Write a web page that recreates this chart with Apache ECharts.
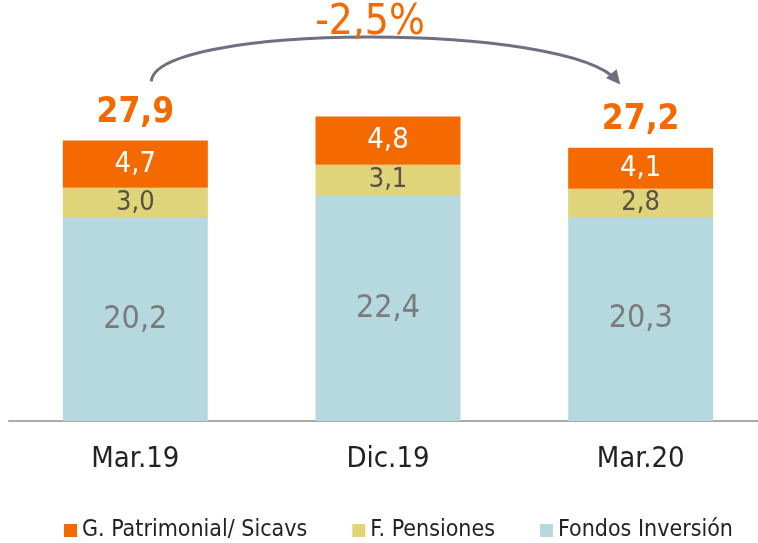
<!DOCTYPE html>
<html>
<head>
<meta charset="utf-8">
<script src="https://cdn.jsdelivr.net/npm/echarts@6/dist/echarts.min.js"></script>
<style>
  html, body { margin: 0; padding: 0; background: #fff; }
  #main { width: 758px; height: 543px; }
</style>
</head>
<body>
<div id="main"></div>
<script>
const categories = ['Mar.19', 'Dic.19', 'Mar.20'];
const fondos = [20.2, 22.4, 20.3];
const pensiones = [3.0, 3.1, 2.8];
const patrimonial = [4.7, 4.8, 4.1];
const totals = [27.9, null, 27.2];
const changeText = '-2,5%';

const FONT = '"DejaVu Sans Condensed", "Liberation Sans Narrow", "Noto Sans", sans-serif';
const ORANGE = '#f46a00';

function fmt(v) {
    return String(v.toFixed(1)).replace('.', ',');
}

var myChart = echarts.init(document.getElementById('main'));

var option = {
    animation: false,
    textStyle: { fontFamily: FONT },
    grid: { left: 9, width: 758, top: 19, height: 402, outerBoundsMode: 'none', containLabel: false },
    legend: {
        top: 514,
        left: 59,
        data: ['G. Patrimonial/ Sicavs', 'F. Pensiones', 'Fondos Inversión'],
        icon: 'rect',
        itemWidth: 13,
        itemHeight: 13,
        itemGap: 45,
        textStyle: { fontSize: 23, color: '#222', fontFamily: FONT }
    },
    xAxis: {
        type: 'category',
        data: categories,
        axisLine: { lineStyle: { color: '#aaaaaa', width: 2 } },
        axisTick: { show: false },
        axisLabel: { fontSize: 29, color: '#222', margin: 24, fontFamily: FONT }
    },
    yAxis: {
        type: 'value',
        min: 0,
        max: 40,
        show: false
    },
    series: [
        {
            name: 'Fondos Inversión',
            type: 'bar',
            stack: 'a',
            barWidth: 145,
            data: fondos,
            itemStyle: { color: '#b6d9df' },
            label: {
                show: true, position: 'inside', fontSize: 32, color: '#7b7b7b',
                fontFamily: FONT,
                formatter: function (p) { return fmt(p.value); }
            }
        },
        {
            name: 'F. Pensiones',
            type: 'bar',
            stack: 'a',
            data: pensiones,
            itemStyle: { color: '#e0d47a' },
            label: {
                show: true, position: 'inside', fontSize: 27, color: '#5a5046',
                fontFamily: FONT,
                formatter: function (p) { return fmt(p.value); }
            }
        },
        {
            name: 'G. Patrimonial/ Sicavs',
            type: 'bar',
            stack: 'a',
            data: patrimonial,
            itemStyle: { color: ORANGE },
            label: {
                show: true, position: 'inside', fontSize: 29, color: '#ffffff',
                fontFamily: FONT,
                formatter: function (p) { return fmt(p.value); }
            }
        },
        {
            name: 'total',
            type: 'bar',
            stack: 'a',
            data: totals.map(function () { return 0; }),
            itemStyle: { color: 'transparent' },
            label: {
                show: true, position: 'top', distance: 10, fontSize: 35,
                fontWeight: 'bold', color: ORANGE, fontFamily: FONT,
                formatter: function (p) {
                    var t = totals[p.dataIndex];
                    return t == null ? '' : fmt(t);
                }
            }
        }
    ]
};

myChart.setOption(option);

// curved arrow between the two labelled totals
var p0 = myChart.convertToPixel({ xAxisIndex: 0, yAxisIndex: 0 }, [0, 33.8]);
var p3 = myChart.convertToPixel({ xAxisIndex: 0, yAxisIndex: 0 }, [2, 33.8]);
var x0 = p0[0] + 16, y0 = p0[1];
var x3 = p3[0] - 23, y3 = p3[1];
var c1 = [x0 + 4, y0 - 58];
var c2 = [x3 - 50, y3 - 60];
var ang = Math.atan2(y3 - c2[1], x3 - c2[0]);
var ah = 14, aw = 7;
var tip = [x3 + Math.cos(ang) * 4, y3 + Math.sin(ang) * 4];
var back = [tip[0] - Math.cos(ang) * ah, tip[1] - Math.sin(ang) * ah];
var left = [back[0] + Math.sin(ang) * aw, back[1] - Math.cos(ang) * aw];
var right = [back[0] - Math.sin(ang) * aw, back[1] + Math.cos(ang) * aw];

myChart.setOption({
    graphic: [
        {
            type: 'bezierCurve',
            shape: {
                x1: x0, y1: y0, x2: x3, y2: y3,
                cpx1: c1[0], cpy1: c1[1], cpx2: c2[0], cpy2: c2[1]
            },
            style: { stroke: '#6f6f82', lineWidth: 3, fill: null }
        },
        {
            type: 'polygon',
            shape: { points: [tip, left, right] },
            style: { fill: '#6f6f82' }
        },
        {
            type: 'text',
            x: 370,
            y: 23,
            style: {
                text: changeText,
                fontSize: 42,
                fill: ORANGE,
                fontFamily: FONT,
                align: 'center',
                verticalAlign: 'middle'
            }
        }
    ]
});
</script>
</body>
</html>
